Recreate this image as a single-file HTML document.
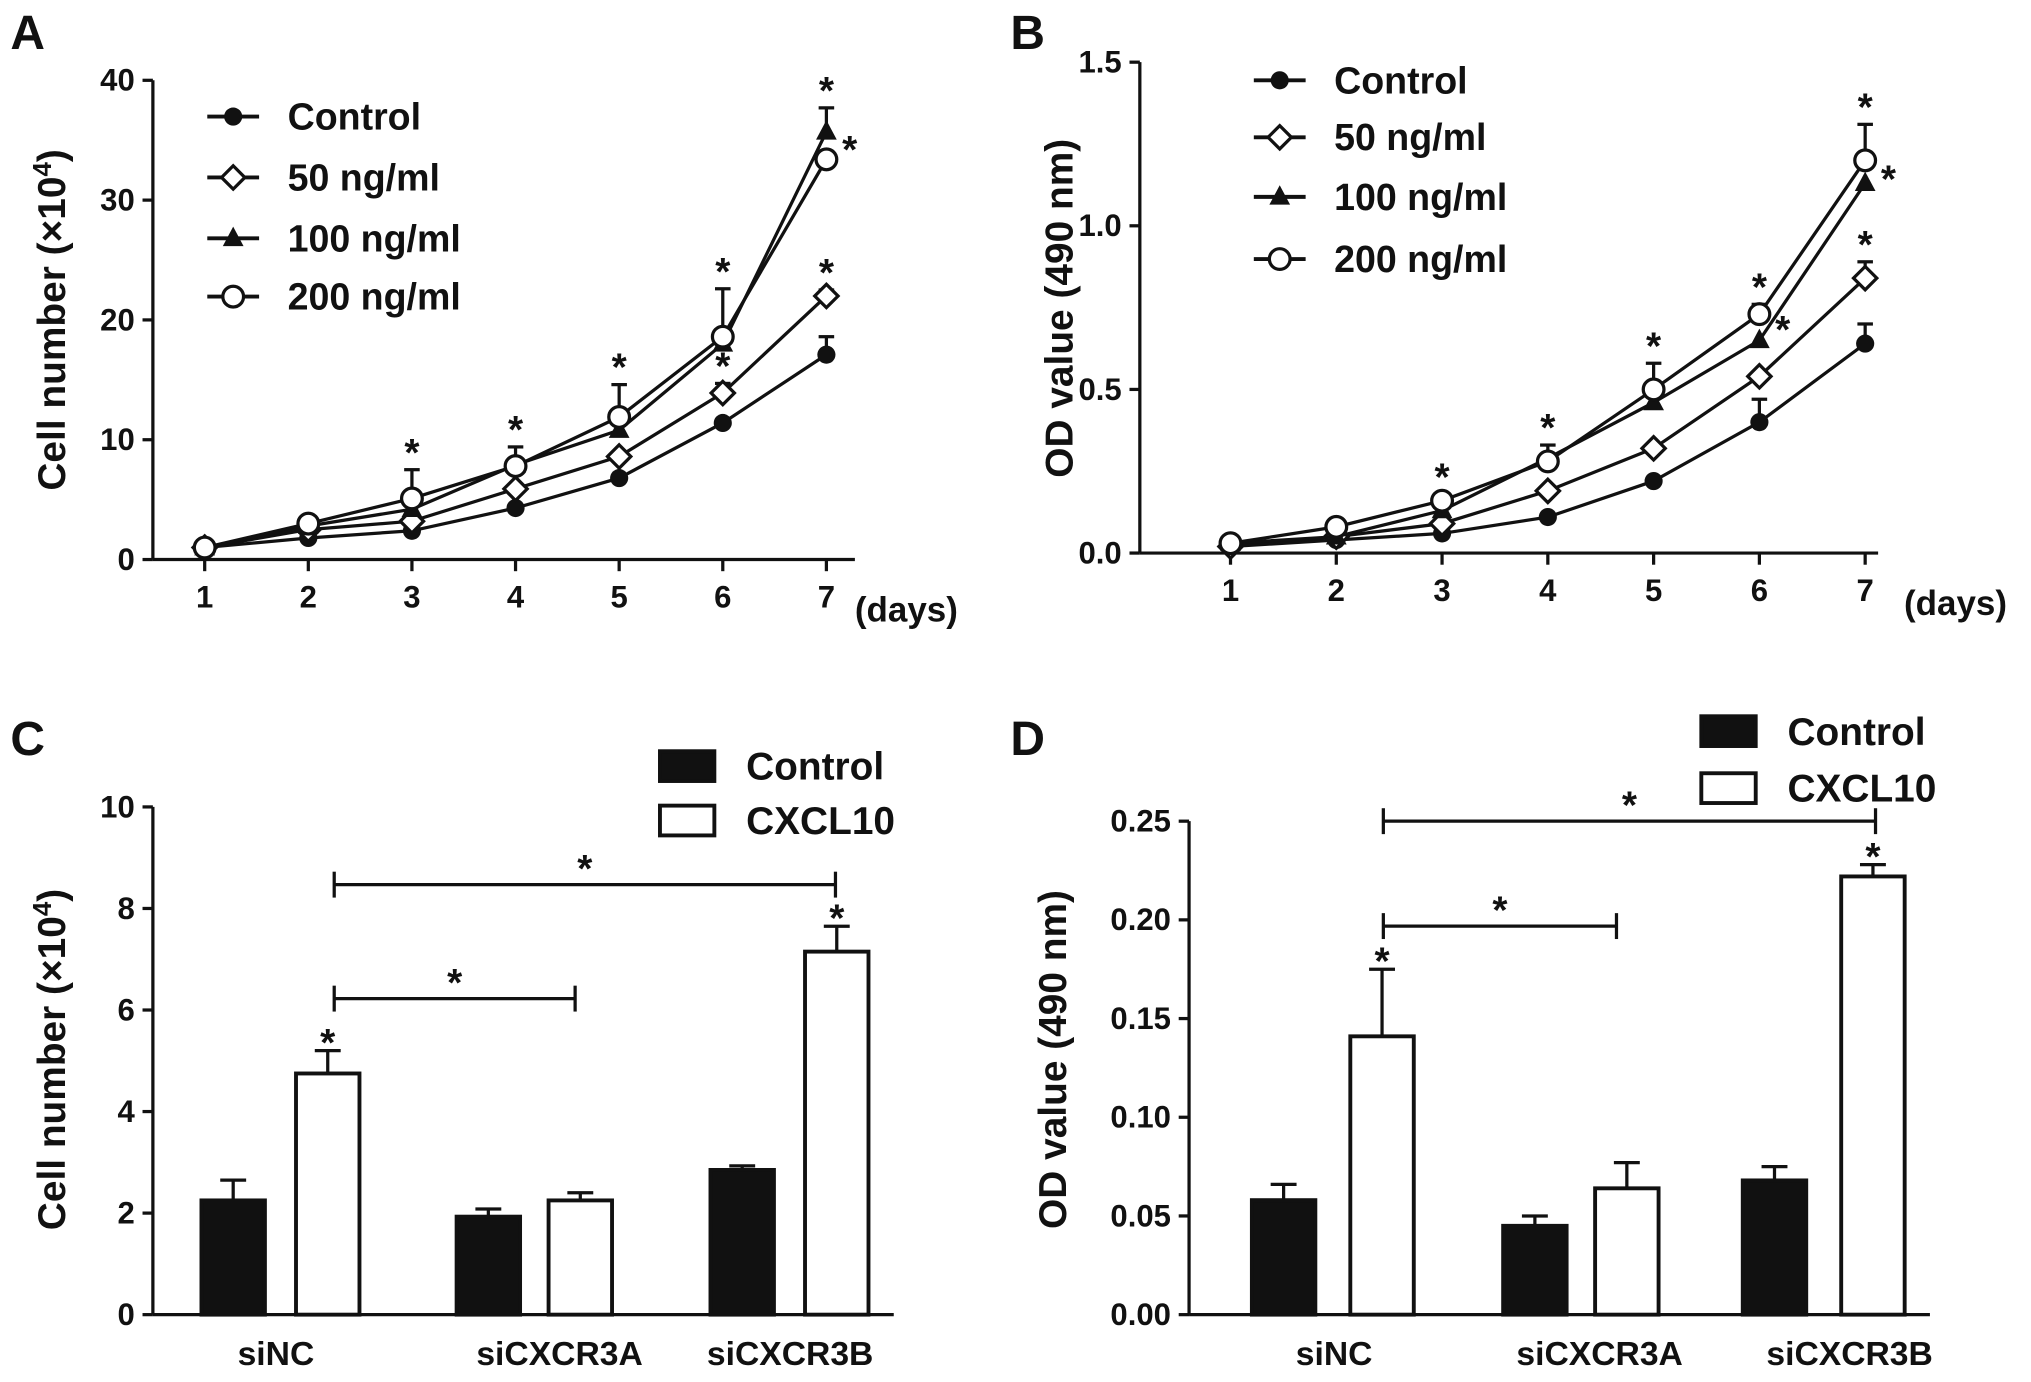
<!DOCTYPE html>
<html><head><meta charset="utf-8"><style>
html,body{margin:0;padding:0;background:#fff;}
svg{display:block;font-family:"Liberation Sans",Arial,sans-serif;font-weight:bold;}
</style></head><body>
<svg id="fig" width="2031" height="1382" viewBox="0 0 1568 1067" xmlns="http://www.w3.org/2000/svg">
</svg>
<script>
// ---------- DATA ----------
const days = [1,2,3,4,5,6,7];
const seriesNames = ["Control","50 ng/ml","100 ng/ml","200 ng/ml"];
const aControl = [1,1.8,2.4,4.3,6.8,11.4,17.1];
const a50 = [1,2.5,3.2,5.9,8.6,13.9,22.0];
const a100 = [1,2.8,4.2,7.9,10.8,18.0,35.7];
const a200 = [1,3.0,5.1,7.8,11.9,18.6,33.4];
const aErr200 = [0,0.3,2.4,1.6,2.7,4.0,0];
const aErr100 = [0,0,0,0,0,0,2.0];
const aErrControl = [0,0,0,0,0,0,1.5];
const aErr50 = [0,0,0,0,0,0.8,0.5];
const aTicks = [0,10,20,30,40];
const bControl = [0.02,0.04,0.06,0.11,0.22,0.40,0.64];
const b50 = [0.02,0.05,0.09,0.19,0.32,0.54,0.84];
const b100 = [0.03,0.05,0.13,0.29,0.46,0.65,1.13];
const b200 = [0.03,0.08,0.16,0.28,0.50,0.73,1.20];
const bErr200 = [0,0,0.02,0.05,0.08,0.03,0.11];
const bErrControl = [0,0,0,0,0,0.07,0.06];
const bErr50 = [0,0,0,0,0,0,0.05];
const bTicks = [0,0.5,1.0,1.5];
const groups = ["siNC","siCXCR3A","siCXCR3B"];
const cControl = [2.25,1.93,2.85];
const cCXCL10 = [4.75,2.25,7.15];
const cErrControl = [0.4,0.15,0.08];
const cErrCXCL10 = [0.45,0.15,0.5];
const cTicks = [0,2,4,6,8,10];
const dControl = [0.058,0.045,0.068];
const dCXCL10 = [0.141,0.064,0.222];
const dErrControl = [0.008,0.005,0.007];
const dErrCXCL10 = [0.034,0.013,0.006];
const dTicks = [0,0.05,0.10,0.15,0.20,0.25];

// ---------- HELPERS ----------
const NS="http://www.w3.org/2000/svg";
const svg=document.getElementById('fig');
function mk(tag,attrs,parent){const e=document.createElementNS(NS,tag);for(const k in attrs)e.setAttribute(k,attrs[k]);(parent||svg).appendChild(e);return e;}
function txt(x,y,s,size,anchor,parent,rot){const t=mk('text',{x:x,y:y,'font-size':size,'text-anchor':anchor||'middle',fill:'#111'},parent);if(rot)t.setAttribute('transform','rotate(-90 '+x+' '+y+')');t.textContent=s;return t;}
function line(x1,y1,x2,y2,w,parent){return mk('line',{x1:x1,y1:y1,x2:x2,y2:y2,stroke:'#111','stroke-width':w||2.5},parent);}
function marker(kind,x,y,parent){
  const g=mk('g',{},parent);
  if(kind===0) mk('circle',{cx:x,cy:y,r:7,fill:'#111'},g);
  if(kind===1) mk('polygon',{points:`${x},${y-9} ${x+9},${y} ${x},${y+9} ${x-9},${y}`,fill:'#fff',stroke:'#111','stroke-width':2.5},g);
  if(kind===2) mk('polygon',{points:`${x},${y-9} ${x+8},${y+6} ${x-8},${y+6}`,fill:'#111'},g);
  if(kind===3) mk('circle',{cx:x,cy:y,r:8,fill:'#fff',stroke:'#111','stroke-width':2.5},g);
  return g;
}
function star(x,y,parent){return txt(x,y,'*',30,'middle',parent);}

// ---------- LINE PANELS ----------
function linePanel(cfg){
  const g=mk('g',{});
  
  
  const X=d=>cfg.x1+(d-1)*(cfg.x7-cfg.x1)/6;
  const Y=v=>cfg.y0-v*(cfg.y0-cfg.yTop)/cfg.yMax;
  const ax=mk('g',{},g);
  
  
  line(cfg.ax,cfg.y0,cfg.xEnd,cfg.y0,2.5,ax);
  line(cfg.ax,cfg.y0,cfg.ax,cfg.yTop,2.5,ax);
  cfg.ticks.forEach(t=>{line(cfg.ax-8,Y(t),cfg.ax,Y(t),2.5,ax);const l=txt(cfg.ax-14,Y(t)+8,cfg.fmt(t),24,'end',ax);});
  days.forEach(d=>{line(X(d),cfg.y0,X(d),cfg.y0+9,2.5,ax);const l=txt(X(d),cfg.y0+37,String(d),24,'middle',ax);});
  const du=txt(cfg.daysX,cfg.y0+48,'(days)',27,'start',ax);
  
  
  const yt=txt(cfg.ylx,cfg.yly,'',30,'middle',ax,true);
  yt.innerHTML=cfg.ylabel;
  
  
  cfg.series.forEach((s,i)=>{
    const sg=mk('g',{},g);
    
    
    const err=cfg.errs[i];
    if(err) s.forEach((v,j)=>{if(err[j]>0){line(X(days[j]),Y(v),X(days[j]),Y(v+err[j]),2.5,sg);line(X(days[j])-6,Y(v+err[j]),X(days[j])+6,Y(v+err[j]),2.5,sg);}});
    mk('polyline',{points:s.map((v,j)=>X(days[j])+','+Y(v)).join(' '),fill:'none',stroke:'#111','stroke-width':2.5},sg);
    s.forEach((v,j)=>{const m=marker(i,X(days[j]),Y(v),sg);});
  });
  cfg.stars.forEach(st=>{const s=star(X(st[0])+(st[2]||0),Y(st[1])+(st[2]?12:-3),g);});
  const lg=mk('g',{},g);
  
  
  seriesNames.forEach((n,i)=>{
    const e=mk('g',{},lg);
    
    
    const yy=cfg.legY[i];
    line(cfg.legX,yy,cfg.legX+40,yy,3,e);
    marker(i,cfg.legX+20,yy,e);
    txt(cfg.legX+62,yy+10,n,29,'start',e);
  });
  const pl=txt(cfg.letterX,38,cfg.letter,37,'start',g);
  
  
}
linePanel({name:'panel-a',letter:'A',letterX:8,ax:118,xEnd:660,x1:158,x7:638,y0:432,yTop:62,yMax:40,ticks:aTicks,fmt:t=>String(t),
  daysX:660,ylx:50,yly:247,ylabel:'Cell number (×10<tspan baseline-shift="super" font-size="20">4</tspan>)',
  series:[aControl,a50,a100,a200],errs:[aErrControl,aErr50,aErr100,aErr200],
  stars:[[3,a200[2]+aErr200[2]],[4,a200[3]+aErr200[3]],[5,a200[4]+aErr200[4]],[6,a200[5]+aErr200[5]],[6,a50[5]+aErr50[5]],[7,a100[6]+aErr100[6]],[7,a50[6]+aErr50[6]],[7,a200[6]+1,18]],
  legX:160,legY:[90,137,184,229]});
linePanel({name:'panel-b',letter:'B',letterX:780,ax:880,xEnd:1450,x1:950,x7:1440,y0:427,yTop:48,yMax:1.5,ticks:bTicks,fmt:t=>t.toFixed(1),
  daysX:1470,ylx:828,yly:238,ylabel:'OD value (490 nm)',
  series:[bControl,b50,b100,b200],errs:[bErrControl,bErr50,null,bErr200],
  stars:[[3,b200[2]+bErr200[2]],[4,b200[3]+bErr200[3]],[5,b200[4]+bErr200[4]],[6,b200[5]+bErr200[5]],[6,b100[5]+0.04,18],[7,b200[6]+bErr200[6]],[7,b100[6]+0.02,18],[7,b50[6]+bErr50[6]]],
  legX:968,legY:[62,106,152,200]});

// ---------- BAR PANELS ----------
function barPanel(cfg){
  const g=mk('g',{});
  
  
  const Y=v=>cfg.y0-v*(cfg.y0-cfg.yTop)/cfg.yMax;
  const ax=mk('g',{},g);
  
  
  line(cfg.ax,cfg.y0,cfg.xEnd,cfg.y0,2.5,ax);
  line(cfg.ax,cfg.y0,cfg.ax,cfg.yTop,2.5,ax);
  cfg.ticks.forEach(t=>{line(cfg.ax-8,Y(t),cfg.ax,Y(t),2.5,ax);const l=txt(cfg.ax-14,Y(t)+8,cfg.fmt(t),24,'end',ax);});
  groups.forEach((n,i)=>{const l=txt(cfg.labX[i],cfg.y0+39,n,26,'middle',ax);});
  const yt=txt(cfg.ylx,cfg.yly,'',30,'middle',ax,true);
  yt.innerHTML=cfg.ylabel;
  
  
  const w=52;
  [[cfg.ctrl,cfg.ctrlErr,cfg.cx,'#111','control'],[cfg.cx10,cfg.cx10Err,cfg.xx,'#fff','cxcl10']].forEach(s=>{
    s[0].forEach((v,i)=>{
      const b=mk('g',{},g);
      
      
      const x=s[2][i], top=Y(v+s[1][i]);
      line(x,Y(v),x,top,2.5,b);line(x-10,top,x+10,top,2.5,b);
      mk('rect',{x:x-w/2+1.5,y:Y(v),width:w-3,height:cfg.y0-Y(v),fill:s[3],stroke:'#111','stroke-width':3},b);
    });
  });
  cfg.barStars.forEach(i=>{const s=star(cfg.xx[i],Y(cfg.cx10[i]+cfg.cx10Err[i])+4,g);});
  cfg.brackets.forEach(br=>{
    const bg=mk('g',{},g);
    
    
    line(br[0],br[2],br[1],br[2],2.5,bg);line(br[0],br[2]-10,br[0],br[2]+10,2.5,bg);line(br[1],br[2]-10,br[1],br[2]+10,2.5,bg);
    star((br[0]+br[1])/2,br[2]-2,bg);
  });
  const lg=mk('g',{},g);
  
  
  [['Control','#111'],['CXCL10','#fff']].forEach((e,i)=>{
    const eg=mk('g',{},lg);
    
    
    const yy=cfg.legY[i];
    mk('rect',{x:cfg.legX+1.5,y:yy-11,width:42,height:23,fill:e[1],stroke:'#111','stroke-width':3},eg);
    txt(cfg.legX+68,yy+11,e[0],30,'start',eg);
  });
  const pl=txt(cfg.letterX,583,cfg.letter,37,'start',g);
  
  
}
barPanel({name:'panel-c',letter:'C',letterX:8,ax:118,xEnd:690,y0:1015,yTop:623,yMax:10,ticks:cTicks,fmt:t=>String(t),
  ylx:50,yly:818,ylabel:'Cell number (×10<tspan baseline-shift="super" font-size="20">4</tspan>)',
  ctrl:cControl,ctrlErr:cErrControl,cx10:cCXCL10,cx10Err:cErrCXCL10,cx:[180,377,573],xx:[253,448,646],labX:[213,432,610],
  barStars:[0,2],brackets:[[258,645,683],[258,444,771]],legX:508,legY:[591,633]});
barPanel({name:'panel-d',letter:'D',letterX:780,ax:918,xEnd:1490,y0:1015,yTop:634,yMax:0.25,ticks:dTicks,fmt:t=>t.toFixed(2),
  ylx:823,yly:818,ylabel:'OD value (490 nm)',
  ctrl:dControl,ctrlErr:dErrControl,cx10:dCXCL10,cx10Err:dErrCXCL10,cx:[991,1185,1370],xx:[1067,1256,1446],labX:[1030,1235,1428],
  barStars:[0,2],brackets:[[1068,1448,634],[1068,1248,715]],legX:1312,legY:[564,608]});
</script>
</body></html>
